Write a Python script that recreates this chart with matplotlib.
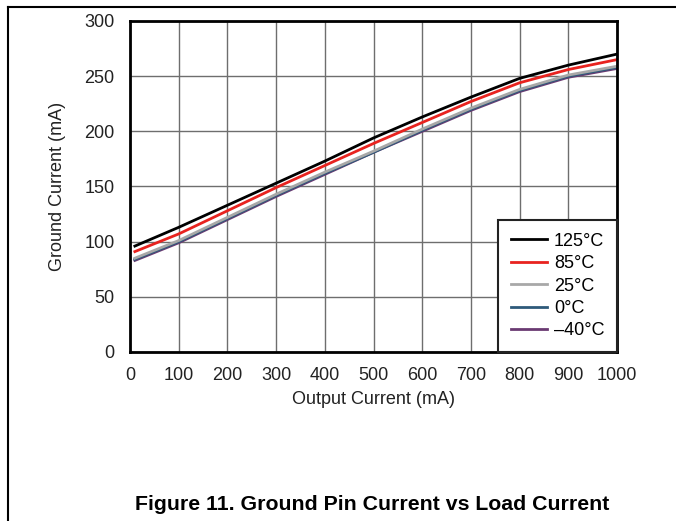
import matplotlib
matplotlib.use("Agg")
import matplotlib.pyplot as plt
from matplotlib.lines import Line2D

plt.rcParams['font.family'] = ['Liberation Sans', 'DejaVu Sans']

# ground current (mA) vs output current (mA) at each temperature
load_ma = [10, 100, 200, 300, 400, 500, 600, 700, 800, 900, 1000]
ig_125 = [96, 113, 133, 153, 173, 194, 213, 231, 248, 260, 270]
ig_85 = [91, 107, 128, 149, 169, 189, 208, 227, 244, 256, 265]
ig_25 = [85, 101, 122, 143, 163, 182, 202, 221, 238, 251, 259]
ig_0 = [84, 100, 121, 142, 162, 181, 201, 220, 237, 250, 258]
ig_m40 = [83, 99, 120, 141, 161, 181, 200, 219, 236, 249, 257]

labels = ['125°C', '85°C', '25°C', '0°C', '\u201340°C']
colors = ['#000000', '#e8231f', '#a8a8a8', '#2e5a7a', '#6a3a72']
series = [ig_125, ig_85, ig_25, ig_0, ig_m40]

fig = plt.figure(figsize=(6.76, 5.21), dpi=100)
ax = fig.add_axes([130/676, 1-352/521, 487/676, 331/521])

# draw coolest first so the hot curves sit on top
for y, c, lab in reversed(list(zip(series, colors, labels))):
    ax.plot(load_ma, y, color=c, lw=2, label=lab)

ax.set_xlim(0, 1000)
ax.set_ylim(0, 300)
ax.set_xticks(range(0, 1001, 100))
ax.set_yticks(range(0, 301, 50))
ax.grid(True, color='#6e6e6e', lw=1)
ax.set_axisbelow(True)
ax.tick_params(length=0, labelsize=13, pad=11, colors='#222222')
for s in ax.spines.values():
    s.set_linewidth(2)

ax.set_xlabel('Output Current (mA)', fontsize=13, labelpad=5, color='#222222')
ax.set_ylabel('Ground Current (mA)', fontsize=13, labelpad=13, color='#222222')

h, l = ax.get_legend_handles_labels()
leg = ax.legend(h[::-1], l[::-1], loc='lower right', borderaxespad=0,
                fontsize=13, fancybox=False, framealpha=1, edgecolor='#222222',
                handlelength=2.0, handletextpad=0.4, labelspacing=0.3,
                borderpad=0.7)
leg.get_frame().set_linewidth(1.5)

fig.text(372/676, 1-505/521, 'Figure 11. Ground Pin Current vs Load Current',
         ha='center', va='center', fontsize=15.3, fontweight='bold')

# page border
fig.add_artist(Line2D([8/676, 8/676], [0, 1-7/521], color='black', lw=1.5))
fig.add_artist(Line2D([8/676, 1], [1-7/521, 1-7/521], color='black', lw=1.5))

fig.savefig('out.png', dpi=100)
